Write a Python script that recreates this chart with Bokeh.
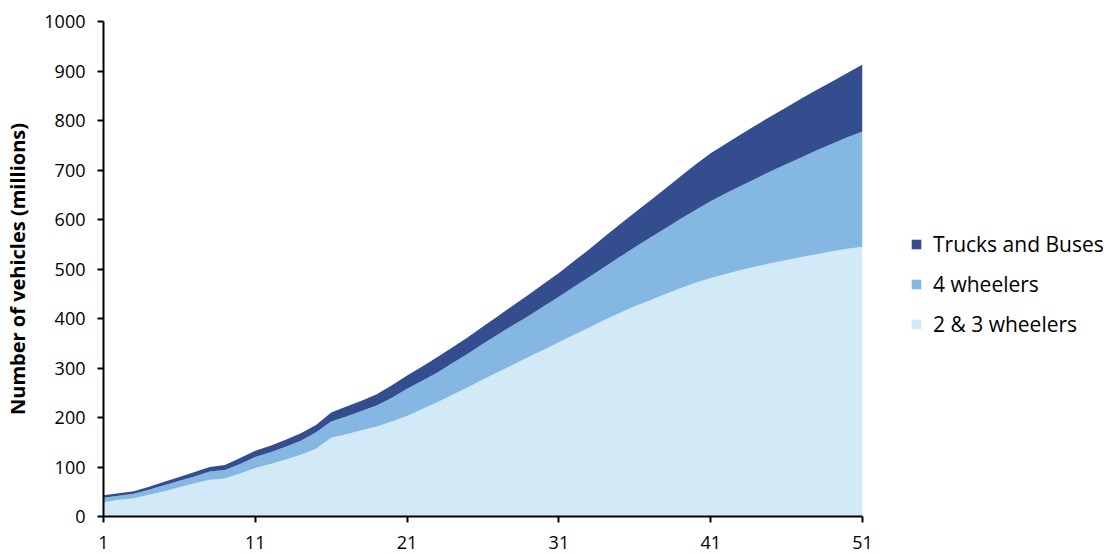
from bokeh.plotting import figure
from bokeh.models import ColumnDataSource, Range1d, FixedTicker, Legend, LegendItem
from bokeh.embed import file_html
from bokeh.resources import INLINE

years = list(range(1, 52))

two_three_wheelers = [29, 34, 37, 44, 51, 59, 67, 74, 77, 87,
                      98, 106, 115, 125, 137, 159, 166, 174, 182, 192,
                      203, 217, 231, 246, 261, 277, 292, 307, 322, 337,
                      352, 367, 382, 397, 411, 425, 437, 449, 461, 472,
                      482, 490, 498, 505, 512, 518, 524, 530, 536, 541,
                      545]

four_wheelers = [9, 8, 9, 10, 12, 13, 14, 17, 17, 19,
                 22, 24, 26, 28, 33, 33, 36, 39, 42, 48,
                 55, 57, 60, 64, 68, 72, 76, 80, 83, 88,
                 92, 97, 102, 107, 113, 119, 126, 133, 140, 147,
                 155, 163, 170, 178, 186, 194, 202, 210, 217, 225,
                 233]

trucks_buses = [5, 5, 5, 6, 7, 8, 9, 9, 10, 12,
                13, 13, 14, 15, 15, 18, 20, 21, 23, 25,
                27, 29, 31, 32, 33, 35, 37, 40, 43, 45,
                48, 52, 56, 61, 66, 70, 75, 80, 86, 92,
                97, 100, 104, 108, 111, 115, 119, 122, 126, 130,
                135]

series_names = ["2 & 3 wheelers", "4 wheelers", "Trucks and Buses"]
series_keys = ["two_three", "four", "trucks"]
colors = ["#d2e9f7", "#85b7e3", "#344d8f"]

x_ticks = [1, 11, 21, 31, 41, 51]
y_ticks = list(range(0, 1001, 100))

source = ColumnDataSource(dict(x=years, two_three=two_three_wheelers,
                               four=four_wheelers, trucks=trucks_buses))

FONT = "Open Sans"

p = figure(width=1105, height=552, output_backend="svg", toolbar_location=None,
           x_range=Range1d(1, 51), y_range=Range1d(0, 1000),
           min_border_left=103, min_border_top=21, min_border_bottom=36,
           min_border_right=243, frame_width=759, frame_height=495)

renderers = p.varea_stack(stackers=series_keys, x="x", color=colors, source=source)

p.xgrid.visible = False
p.ygrid.visible = False
p.outline_line_color = None

for ax in (p.xaxis[0], p.yaxis[0]):
    ax.axis_line_color = "black"
    ax.axis_line_width = 2
    ax.major_tick_line_color = "black"
    ax.major_tick_line_width = 2
    ax.major_tick_out = 6
    ax.major_tick_in = 0
    ax.minor_tick_line_color = None
    ax.major_label_text_font = FONT
    ax.major_label_text_font_size = "18px"
    ax.major_label_text_color = "black"

p.xaxis.ticker = FixedTicker(ticks=x_ticks)
p.yaxis.ticker = FixedTicker(ticks=y_ticks)
p.xaxis.major_label_standoff = 13
p.yaxis.major_label_standoff = 12

p.yaxis.axis_label = "Number of vehicles (millions)"
p.yaxis.axis_label_text_font = FONT
p.yaxis.axis_label_text_font_size = "20px"
p.yaxis.axis_label_text_font_style = "bold"
p.yaxis.axis_label_text_color = "black"
p.yaxis.axis_label_standoff = 10

items = [LegendItem(label=series_names[i], renderers=[renderers[i]]) for i in (2, 1, 0)]
legend = Legend(items=items, location=(48, 178))
legend.background_fill_alpha = 0
legend.border_line_color = None
legend.label_text_font = FONT
legend.label_text_font_size = "21px"
legend.label_text_color = "black"
legend.glyph_width = 12
legend.glyph_height = 12
legend.label_height = 28
legend.spacing = 12
legend.label_standoff = 11
legend.padding = 0
legend.margin = 0
p.add_layout(legend, "right")

open("out.html", "w").write(file_html(p, INLINE))
